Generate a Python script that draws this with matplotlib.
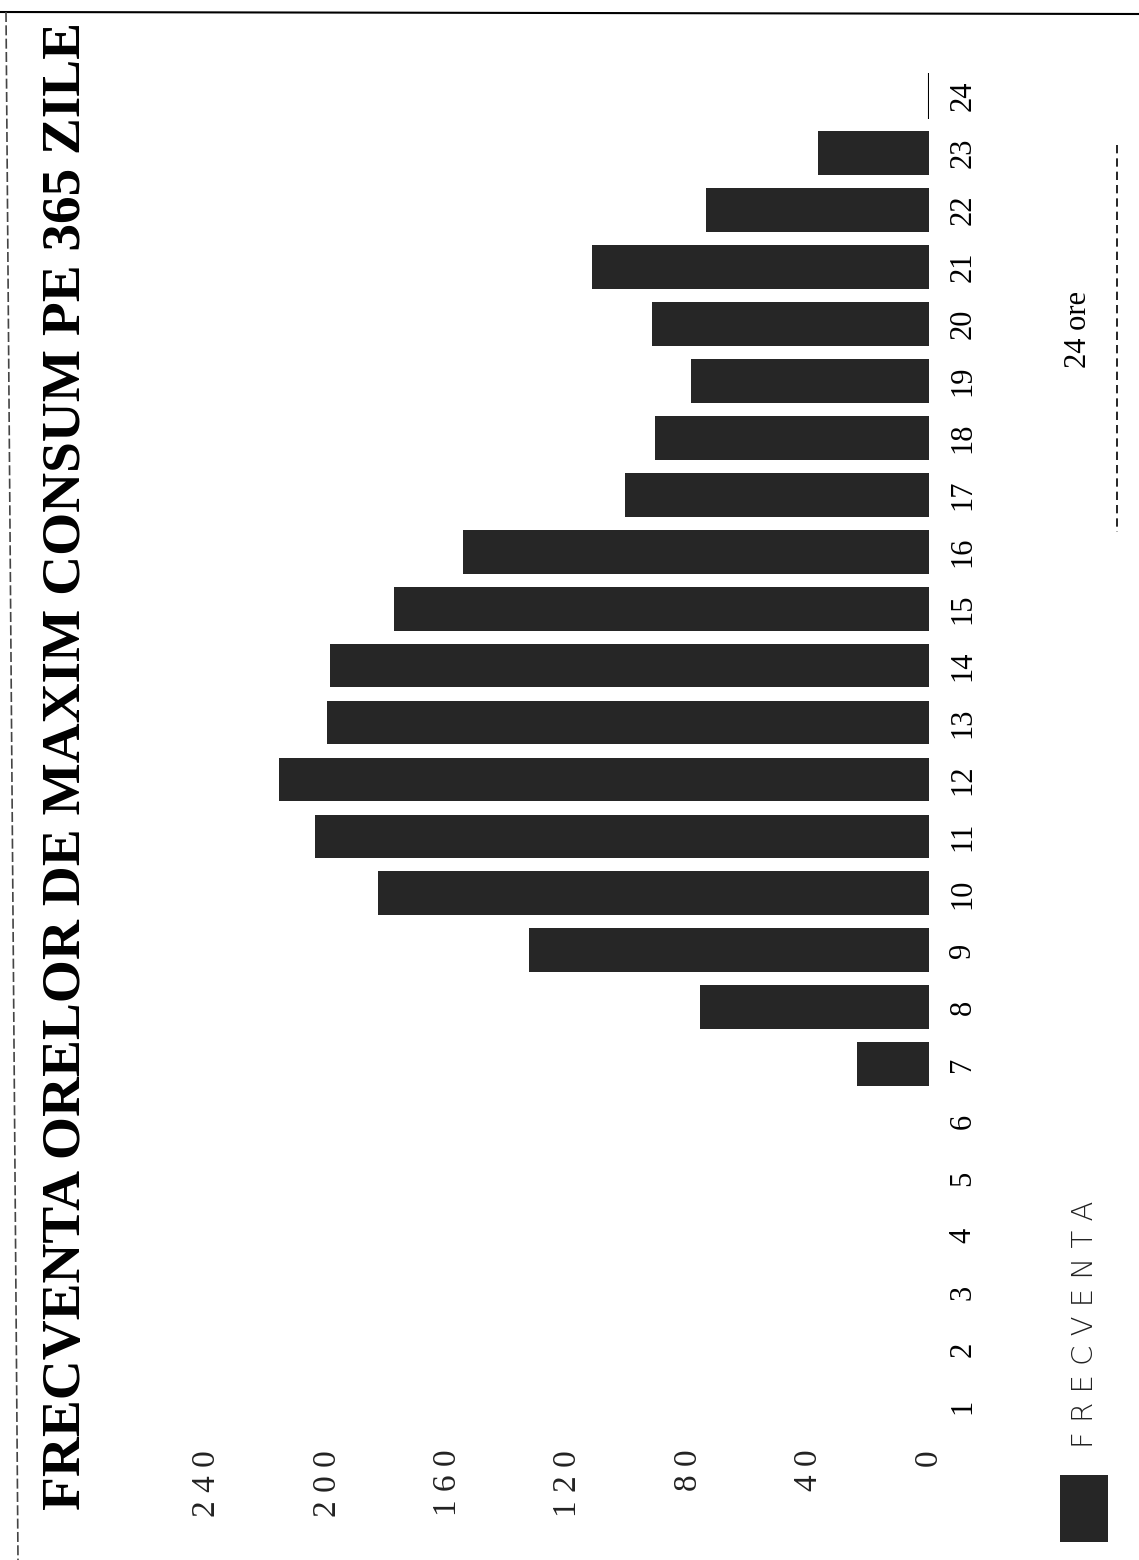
import matplotlib
matplotlib.use('Agg')
import matplotlib.pyplot as plt
from matplotlib import font_manager as fm
from matplotlib.lines import Line2D
from matplotlib.patches import Rectangle

# data (hour of day -> number of days)
hours = list(range(1, 25))
frecventa = [0, 0, 0, 0, 0, 0, 24, 76, 133, 183, 204, 216,
             200, 199, 178, 155, 101, 91, 79, 92, 112, 74, 37, 0]
value_ticks = [0, 40, 80, 120, 160, 200, 240]

title = 'FRECVENTA ORELOR DE MAXIM CONSUM PE 365 ZILE'
legend_label = 'FRECVENTA'
axis_note = '24 ore'

W, H = 1139, 1560
bar_color = '#262626'

names = {f.name for f in fm.fontManager.ttflist}
title_font = 'Liberation Sans Narrow' if 'Liberation Sans Narrow' in names else 'Liberation Serif'
serif = 'Liberation Serif'

fig = plt.figure(figsize=(W / 100, H / 100), dpi=100)
fig.patch.set_facecolor('white')

def fx(px):
    return px / W

def fy(py):
    return 1 - py / H

# the chart is printed sideways: hours go up the page, values go to the left
ax = fig.add_axes([fx(207), fy(1434.5), fx(929 - 207), (1434.5 - 67.5) / H])
ax.barh(hours, frecventa, height=0.77, color=bar_color, linewidth=0)
ax.set_xlim(240, 0)
ax.set_ylim(0.5, 24.5)
for s in ax.spines.values():
    s.set_visible(False)

ax.yaxis.tick_right()
ax.set_yticks(hours)
ax.set_yticklabels([str(h) for h in hours], rotation=90, va='center',
                   family=serif, fontsize=22)
ax.tick_params(axis='y', length=0, pad=14)

ax.set_xticks(value_ticks)
ax.set_xticklabels([' '.join(str(v)) for v in value_ticks], rotation=90,
                   family=serif, fontsize=24, color='#222222')
ax.tick_params(axis='x', length=0, pad=11)

# short piece of the baseline left at the top end
ax.vlines(0, 23.6, 24.4, color='black', linewidth=1.5)

# title along the left edge, stretched to the full height
t = fig.text(fx(67), fy(766), title, rotation=90, ha='center', va='center',
             family=title_font, fontweight='bold', fontsize=40)
r = fig.canvas.get_renderer()
ext = t.get_window_extent(r)
t.set_fontsize(40 * 1487 / ext.height)

# legend
fig.patches.append(Rectangle((fx(1060), fy(1542)), fx(48), 67 / H,
                             transform=fig.transFigure, facecolor=bar_color,
                             linewidth=0))
fig.text(fx(1085), fy(1448), ' '.join(legend_label), rotation=90, ha='center',
         va='bottom', family='DejaVu Sans', fontweight='light', fontsize=21,
         color='#222222')

# horizontal axis note and dashed rule
fig.text(fx(1078), fy(330), axis_note, rotation=90, ha='center', va='center',
         family=serif, fontsize=22)
fig.lines.append(Line2D([fx(1117), fx(1117)], [fy(145), fy(532)],
                        transform=fig.transFigure, color='black',
                        linewidth=1.2, linestyle=(0, (5, 3))))

# page frame from the scan
fig.lines.append(Line2D([0, 1], [fy(12), fy(14)], transform=fig.transFigure,
                        color='black', linewidth=1.5))
fig.lines.append(Line2D([fx(6), fx(18)], [fy(12), fy(1560)], transform=fig.transFigure,
                        color='#444444', linewidth=1.2, linestyle=(0, (6, 2))))

fig.savefig('out.png', dpi=100)
